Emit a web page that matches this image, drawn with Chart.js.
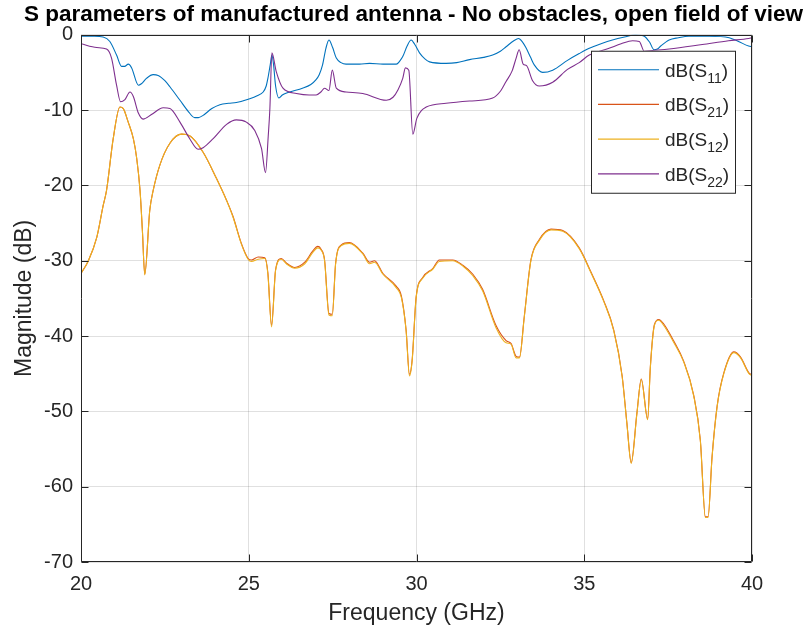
<!DOCTYPE html>
<html>
<head>
<meta charset="utf-8">
<script src="https://cdn.jsdelivr.net/npm/chart.js@4.4.1/dist/chart.umd.min.js"></script>
<style>
  html, body { margin: 0; padding: 0; background: #fff; }
</style>
</head>
<body>
<canvas id="sparamChart" width="812" height="627"></canvas>
<script>
const FONT = "'Liberation Sans', Arial, Helvetica, sans-serif";

// dB(S11)
const s11Freq = [20.0, 20.4, 20.66, 20.86, 21.06, 21.21, 21.3, 21.41, 21.51, 21.71, 21.8, 21.95, 22.15, 22.3, 22.5, 22.65, 22.95, 23.2, 23.39, 23.5, 23.64, 23.9, 24.14, 24.4, 24.63, 25.03, 25.25, 25.43, 25.52, 25.57, 25.64, 25.69, 25.74, 25.8, 25.9, 26.0, 26.22, 26.6, 26.85, 27.0, 27.1, 27.2, 27.3, 27.39, 27.5, 27.61, 27.75, 27.9, 28.3, 28.6, 29.0, 29.4, 29.5, 29.59, 29.72, 29.84, 29.95, 30.09, 30.25, 30.39, 30.88, 31.2, 31.58, 32.0, 32.27, 32.5, 32.67, 32.9, 33.04, 33.15, 33.26, 33.4, 33.51, 33.76, 34.06, 34.5, 34.85, 35.15, 35.5, 35.84, 36.2, 36.54, 36.79, 36.95, 37.08, 37.18, 37.28, 37.53, 37.8, 38.12, 38.72, 39.32, 39.6, 39.9, 40.0];
const s11Db = [-0.2, -0.2, -0.3, -0.9, -2.7, -4.2, -4.2, -3.9, -4.4, -6.7, -6.5, -5.8, -5.3, -5.4, -6.1, -6.9, -8.7, -10.2, -11.0, -11.0, -10.7, -9.8, -9.3, -9.1, -9.0, -8.5, -8.1, -7.6, -6.8, -5.8, -4.0, -2.7, -4.0, -6.8, -8.4, -8.0, -7.6, -7.1, -6.6, -6.0, -5.3, -4.0, -1.8, -0.7, -1.7, -3.1, -3.7, -3.9, -3.9, -3.8, -3.9, -3.9, -3.5, -2.9, -1.5, -0.7, -1.3, -2.4, -3.2, -3.6, -3.8, -3.7, -3.3, -3.0, -2.7, -2.2, -1.6, -0.8, -0.5, -0.9, -1.7, -3.0, -4.0, -5.0, -4.7, -3.4, -2.5, -1.8, -1.2, -0.7, -0.3, 0.0, -0.2, -1.0, -2.0, -1.9, -1.5, -0.7, -0.4, -0.2, -0.2, -0.4, -0.9, -1.5, -1.6];

// dB(S22)
const s22Freq = [20.0, 20.47, 20.76, 20.91, 21.06, 21.18, 21.31, 21.46, 21.56, 21.71, 21.85, 22.1, 22.45, 22.65, 22.95, 23.24, 23.49, 23.64, 23.94, 24.34, 24.63, 24.93, 25.18, 25.38, 25.5, 25.58, 25.63, 25.69, 25.82, 26.02, 26.42, 26.8, 27.01, 27.15, 27.26, 27.39, 27.49, 27.61, 27.9, 28.4, 29.1, 29.3, 29.45, 29.59, 29.67, 29.77, 29.89, 30.01, 30.29, 30.88, 31.58, 32.27, 32.5, 32.67, 32.85, 32.97, 33.06, 33.18, 33.28, 33.46, 33.66, 34.06, 34.5, 34.85, 35.15, 35.74, 36.1, 36.44, 36.64, 36.79, 37.03, 37.53, 38.52, 39.3, 39.9, 40.0];
const s22Db = [-1.2, -1.7, -1.9, -3.1, -6.7, -8.9, -8.6, -7.6, -8.2, -10.4, -11.2, -10.6, -9.7, -9.8, -11.6, -13.8, -15.2, -15.0, -13.8, -11.9, -11.3, -11.6, -12.7, -15.1, -18.3, -13.5, -9.8, -2.4, -4.9, -7.1, -7.8, -8.0, -8.0, -7.6, -7.1, -7.4, -4.7, -7.1, -7.6, -7.8, -8.7, -8.3, -7.3, -5.8, -4.4, -4.7, -13.2, -11.1, -9.6, -9.1, -8.8, -8.4, -7.5, -6.2, -4.8, -3.1, -2.0, -3.9, -4.1, -6.1, -6.8, -6.3, -4.6, -3.7, -2.7, -1.8, -1.2, -0.8, -0.9, -2.2, -2.1, -1.9, -1.3, -0.8, -0.5, -0.4];

// dB(S21) and dB(S12), same frequency points
const transFreq = [20.0, 20.22, 20.47, 20.66, 20.76, 20.96, 21.16, 21.26, 21.4, 21.56, 21.66, 21.76, 21.83, 21.9, 22.05, 22.15, 22.35, 22.65, 23.0, 23.24, 23.64, 24.04, 24.34, 24.53, 24.78, 24.98, 25.08, 25.28, 25.48, 25.57, 25.68, 25.8, 25.97, 26.12, 26.37, 26.67, 26.91, 27.06, 27.16, 27.26, 27.39, 27.49, 27.59, 27.76, 28.0, 28.4, 28.6, 28.75, 29.0, 29.4, 29.55, 29.69, 29.79, 29.87, 29.99, 30.19, 30.49, 30.68, 31.08, 31.38, 31.68, 31.97, 32.37, 32.67, 32.82, 32.97, 33.07, 33.21, 33.41, 33.66, 34.01, 34.36, 34.85, 35.2, 35.58, 35.88, 36.13, 36.27, 36.4, 36.57, 36.7, 36.89, 36.97, 37.09, 37.22, 37.37, 37.66, 37.96, 38.26, 38.46, 38.61, 38.69, 38.81, 38.96, 39.16, 39.46, 39.66, 39.93, 40.0];
const s21Db = [-31.7, -30.0, -26.9, -22.7, -20.7, -13.8, -9.6, -9.8, -11.5, -13.8, -16.4, -20.7, -26.0, -31.8, -23.3, -20.7, -17.3, -14.4, -13.2, -13.4, -15.6, -19.1, -22.0, -24.1, -27.7, -29.7, -29.9, -29.5, -29.6, -31.6, -38.6, -31.2, -29.7, -30.3, -30.9, -30.2, -28.7, -28.1, -28.5, -29.9, -37.0, -37.1, -30.3, -27.9, -27.6, -29.0, -30.2, -30.0, -31.7, -33.4, -34.7, -39.2, -45.1, -43.2, -34.8, -32.2, -31.0, -29.9, -29.9, -30.6, -31.8, -33.8, -38.6, -40.6, -41.0, -42.7, -42.8, -37.5, -29.9, -27.2, -25.8, -26.0, -28.3, -31.5, -35.3, -39.2, -45.3, -51.5, -56.8, -50.2, -45.7, -51.0, -44.1, -38.5, -37.8, -38.4, -40.6, -43.3, -47.8, -53.8, -64.0, -64.0, -56.0, -49.3, -44.9, -42.1, -42.8, -45.0, -45.1];
const s12Db = [-31.7, -30.0, -26.9, -22.7, -20.7, -13.8, -9.6, -9.8, -11.5, -13.8, -16.4, -20.7, -26.0, -31.9, -23.3, -20.7, -17.3, -14.4, -13.2, -13.4, -15.6, -19.1, -22.0, -24.2, -27.8, -29.8, -30.1, -29.8, -29.7, -31.8, -38.8, -31.3, -29.8, -30.4, -31.0, -30.4, -28.9, -28.3, -28.6, -30.0, -37.2, -37.3, -30.4, -28.0, -27.7, -29.1, -30.4, -30.2, -31.8, -33.6, -34.9, -39.3, -45.3, -43.3, -34.9, -32.3, -31.1, -30.1, -30.0, -30.7, -32.0, -34.0, -38.9, -40.9, -41.1, -42.9, -42.9, -37.6, -30.0, -27.3, -25.9, -26.1, -28.4, -31.6, -35.4, -39.3, -45.4, -51.6, -56.9, -50.3, -45.8, -51.1, -44.2, -38.6, -37.9, -38.6, -40.8, -43.4, -47.9, -53.9, -64.1, -64.1, -56.1, -49.4, -45.0, -42.2, -42.9, -45.1, -45.2];

const xTicks = [20, 25, 30, 35, 40];
const yTicks = [0, -10, -20, -30, -40, -50, -60, -70];

const toPoints = (freq, db) => freq.map((f, i) => ({ x: f, y: db[i] }));

const series = (label, sub, freq, db, color, order) => ({
  label,
  sub,
  data: toPoints(freq, db),
  borderColor: color,
  backgroundColor: color,
  borderWidth: 1.1,
  pointRadius: 0,
  fill: false,
  cubicInterpolationMode: "monotone",
  order
});

// box round the axes with inward ticks, like MATLAB
const axesBox = {
  id: "axesBox",
  afterDatasetsDraw(chart) {
    const { ctx, chartArea: a, scales: { x, y } } = chart;
    const L = Math.round(a.left) + 0.5, R = Math.round(a.right) - 0.5;
    const T = Math.round(a.top) + 0.5, B = Math.round(a.bottom) - 0.5;
    ctx.save();
    ctx.strokeStyle = "#262626";
    ctx.lineWidth = 1;
    ctx.beginPath();
    ctx.rect(L, T, R - L, B - T);
    x.ticks.forEach(t => {
      const px = Math.round(x.getPixelForValue(t.value)) + 0.5;
      ctx.moveTo(px, B); ctx.lineTo(px, B - 7);
      ctx.moveTo(px, T); ctx.lineTo(px, T + 7);
    });
    y.ticks.forEach(t => {
      const py = Math.round(y.getPixelForValue(t.value)) + 0.5;
      ctx.moveTo(L, py); ctx.lineTo(L + 7, py);
      ctx.moveTo(R, py); ctx.lineTo(R - 7, py);
    });
    ctx.stroke();
    ctx.restore();
  }
};

// legend with subscripts
const subLegend = {
  id: "subLegend",
  afterDraw(chart) {
    const { ctx, chartArea: a } = chart;
    const boxR = a.right - 16, boxL = boxR - 145;
    const boxT = a.top + 16, boxB = boxT + 143;
    ctx.save();
    ctx.fillStyle = "#fff";
    ctx.fillRect(boxL, boxT, boxR - boxL, boxB - boxT);
    ctx.strokeStyle = "#262626";
    ctx.lineWidth = 1;
    ctx.strokeRect(boxL + 0.5, boxT + 0.5, boxR - boxL - 1, boxB - boxT - 1);
    const entries = [...chart.data.datasets].sort((p, q) => q.order - p.order);
    entries.forEach((ds, i) => {
      const yy = boxT + 19 + i * 34.7;
      ctx.strokeStyle = ds.borderColor;
      ctx.lineWidth = 1.2;
      ctx.beginPath();
      ctx.moveTo(boxL + 7, yy);
      ctx.lineTo(boxL + 68, yy);
      ctx.stroke();
      ctx.fillStyle = "#262626";
      ctx.textBaseline = "alphabetic";
      ctx.textAlign = "left";
      let tx = boxL + 74;
      const base = yy + 7;
      ctx.font = "19px " + FONT;
      ctx.fillText(ds.label, tx, base);
      tx += ctx.measureText(ds.label).width;
      ctx.font = "14px " + FONT;
      ctx.fillText(ds.sub, tx, base + 6);
      tx += ctx.measureText(ds.sub).width;
      ctx.font = "19px " + FONT;
      ctx.fillText(")", tx, base);
    });
    ctx.restore();
  }
};

const gridColor = "rgba(38,38,38,0.14)";

new Chart(document.getElementById("sparamChart"), {
  type: "line",
  data: {
    datasets: [
      series("dB(S", "11", s11Freq, s11Db, "#0072BD", 4),
      series("dB(S", "21", transFreq, s21Db, "#D95319", 3),
      series("dB(S", "12", transFreq, s12Db, "#EDB120", 2),
      series("dB(S", "22", s22Freq, s22Db, "#7E2F8E", 1)
    ]
  },
  options: {
    responsive: false,
    animation: false,
    layout: { padding: { left: 15, right: 0, top: 0, bottom: 0 } },
    plugins: {
      legend: { display: false },
      tooltip: { enabled: false },
      title: {
        display: true,
        text: "S parameters of manufactured antenna - No obstacles, open field of view",
        color: "#000",
        font: { family: FONT, size: 22.5, weight: "bold", lineHeight: 1.1 },
        padding: { top: 2, bottom: 8 }
      }
    },
    scales: {
      x: {
        type: "linear",
        min: 20,
        max: 40,
        afterBuildTicks: s => { s.ticks = xTicks.map(v => ({ value: v })); },
        ticks: { color: "#262626", font: { family: FONT, size: 20 }, padding: 10 },
        grid: { color: gridColor, drawTicks: false },
        border: { display: false },
        title: {
          display: true,
          text: "Frequency (GHz)",
          color: "#262626",
          font: { family: FONT, size: 23 },
          padding: { top: 0, bottom: 0 }
        },
        afterFit: s => { s.height = 65; }
      },
      y: {
        type: "linear",
        min: -70,
        max: 0,
        afterBuildTicks: s => { s.ticks = yTicks.map(v => ({ value: v })); },
        ticks: { color: "#262626", font: { family: FONT, size: 20 }, padding: 8 },
        grid: { color: gridColor, drawTicks: false },
        border: { display: false },
        title: {
          display: true,
          text: "Magnitude (dB)",
          color: "#262626",
          font: { family: FONT, size: 23, lineHeight: 0.85 },
          padding: { top: 0, bottom: 0 }
        },
        afterFit: s => { s.width = 66; }
      },
      yRight: {
        type: "linear",
        position: "right",
        min: -70,
        max: 0,
        ticks: { display: false },
        grid: { display: false },
        border: { display: false },
        afterFit: s => { s.width = 60; }
      }
    }
  },
  plugins: [axesBox, subLegend]
});
</script>
</body>
</html>
